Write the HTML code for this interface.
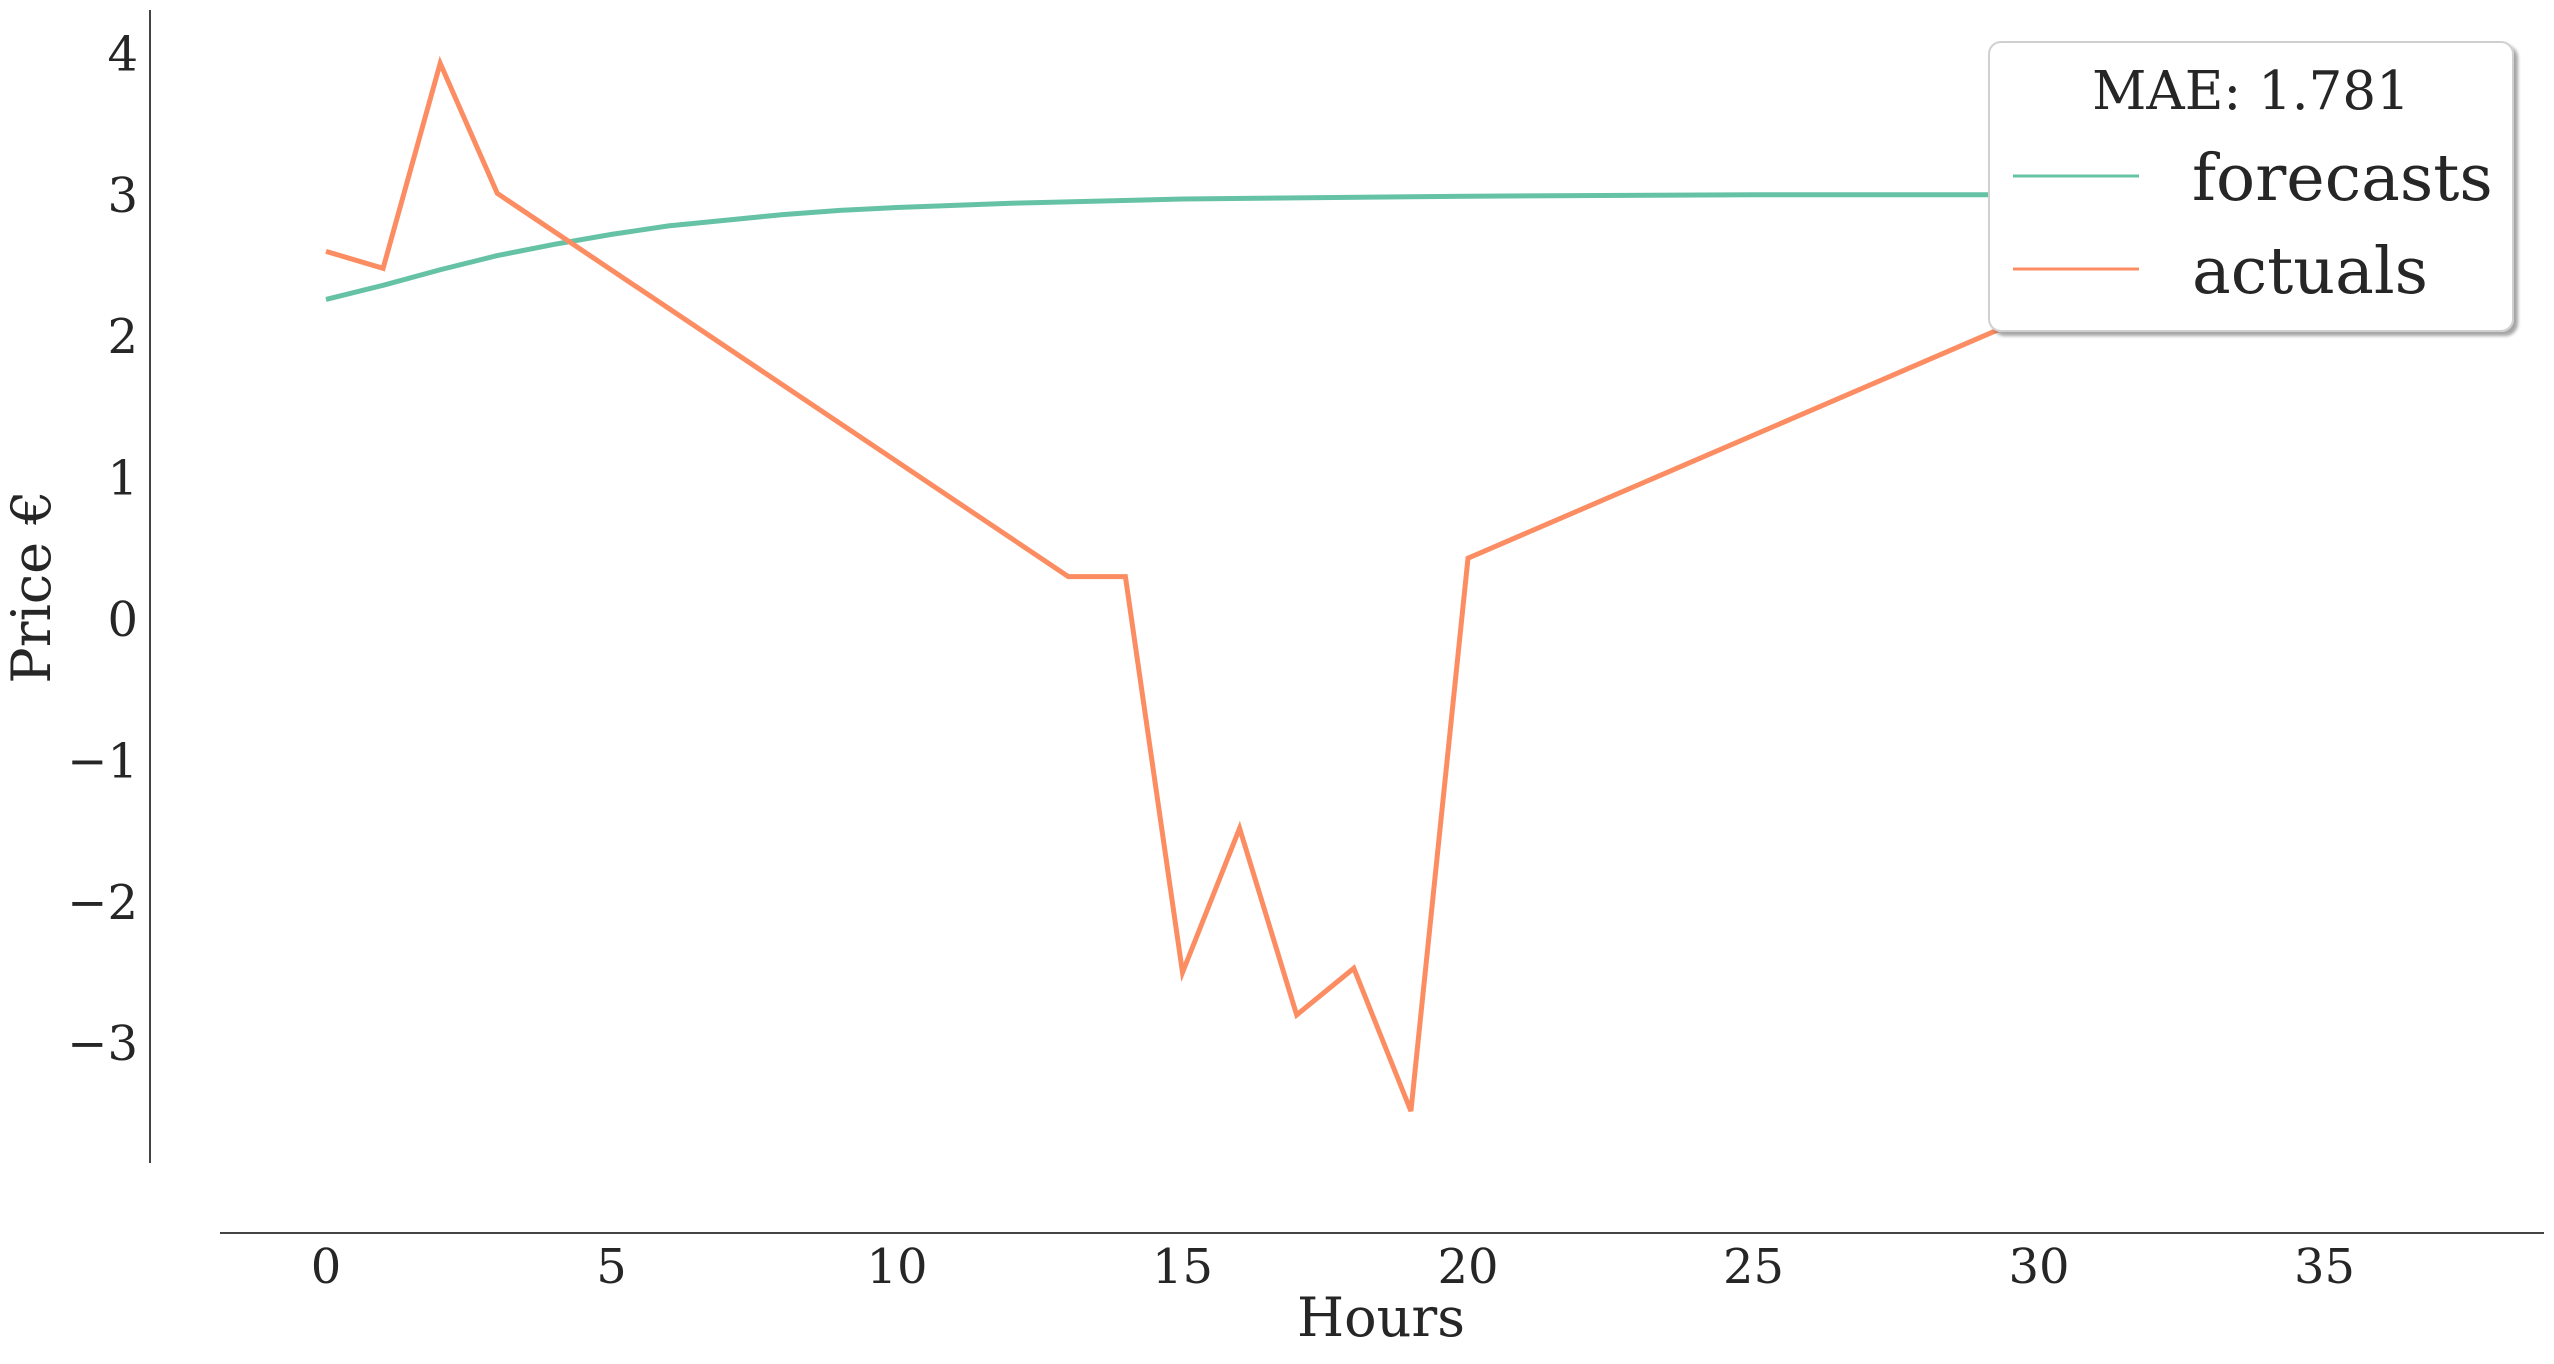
<!DOCTYPE html>
<html><head><meta charset="utf-8"><style>
html,body{margin:0;padding:0;background:#fff}
svg text{font-family:"DejaVu Serif","Liberation Serif",serif;fill:#262626}
</style></head><body>
<svg id="chart" width="2554" height="1359" viewBox="0 0 2554 1359" xmlns="http://www.w3.org/2000/svg">
<defs><filter id="sh" x="-5%" y="-5%" width="115%" height="120%"><feDropShadow dx="4" dy="4" stdDeviation="1.5" flood-color="#000" flood-opacity="0.35"/></filter></defs>
<g id="axes"></g>
<g id="series"></g>
<g id="legend">
<rect x="1989" y="42" width="524" height="289" rx="12" fill="#fff" stroke="#d0d0d0" stroke-width="2" filter="url(#sh)"/>
<text x="2251" y="109" font-size="53" text-anchor="middle">MAE: 1.781</text>
<line x1="2013" y1="176" x2="2139" y2="176" stroke="#66c2a5" stroke-width="3"/>
<text x="2192" y="200" font-size="65">forecasts</text>
<line x1="2013" y1="269" x2="2139" y2="269" stroke="#fc8d62" stroke-width="3"/>
<text x="2192" y="293" font-size="65">actuals</text>
</g>
</svg>
<script>
const xTicks=[0,5,10,15,20,25,30,35];
const yTicks=[-3,-2,-1,0,1,2,3,4];
const actualHours=[0,1,2,3,13,14,15,16,17,18,19,20,30,33];
const actualValues=[2.6,2.48,3.93,3.01,0.3,0.3,-2.5,-1.48,-2.8,-2.47,-3.48,0.43,2.17,2.7];
const forecastHours=[0,1,2,3,4,5,6,7,8,9,10,12,15,20,25,30,33];
const forecastValues=[2.26,2.36,2.47,2.57,2.65,2.72,2.78,2.82,2.86,2.89,2.91,2.94,2.97,2.99,3.0,3.0,3.0];
const NS='http://www.w3.org/2000/svg';
const X=v=>326+v*57.1;
const Y=v=>619-v*141.4;
function mk(tag,attrs,parent){const e=document.createElementNS(NS,tag);for(const k in attrs)e.setAttribute(k,attrs[k]);parent.appendChild(e);return e;}
const axes=document.getElementById('axes');
const ya=mk('line',{x1:150,y1:10,x2:150,y2:1163,stroke:'#444','stroke-width':2},axes);


const xa=mk('line',{x1:220,y1:1233,x2:2544,y2:1233,stroke:'#444','stroke-width':2},axes);


xTicks.forEach(t=>{const e=mk('text',{x:X(t),y:1283,'font-size':48,'text-anchor':'middle'},axes);e.textContent=String(t);

});
yTicks.forEach(t=>{const e=mk('text',{x:138,y:Y(t)+17,'font-size':48,'text-anchor':'end'},axes);e.textContent=(t<0?'\u2212'+(-t):String(t));

});
const xl=mk('text',{x:1381,y:1336,'font-size':54,'text-anchor':'middle'},axes);xl.textContent='Hours';


const yl=mk('text',{x:50,y:587,'font-size':54,'text-anchor':'middle',transform:'rotate(-90 50 587)'},axes);yl.textContent='Price €';


const ser=document.getElementById('series');
const pf=mk('polyline',{points:forecastHours.map((h,i)=>X(h)+','+Y(forecastValues[i])).join(' '),fill:'none',stroke:'#66c2a5','stroke-width':5,'stroke-linejoin':'round'},ser);


const pa=mk('polyline',{points:actualHours.map((h,i)=>X(h)+','+Y(actualValues[i])).join(' '),fill:'none',stroke:'#fc8d62','stroke-width':5,'stroke-linejoin':'miter'},ser);


</script>
</body></html>
